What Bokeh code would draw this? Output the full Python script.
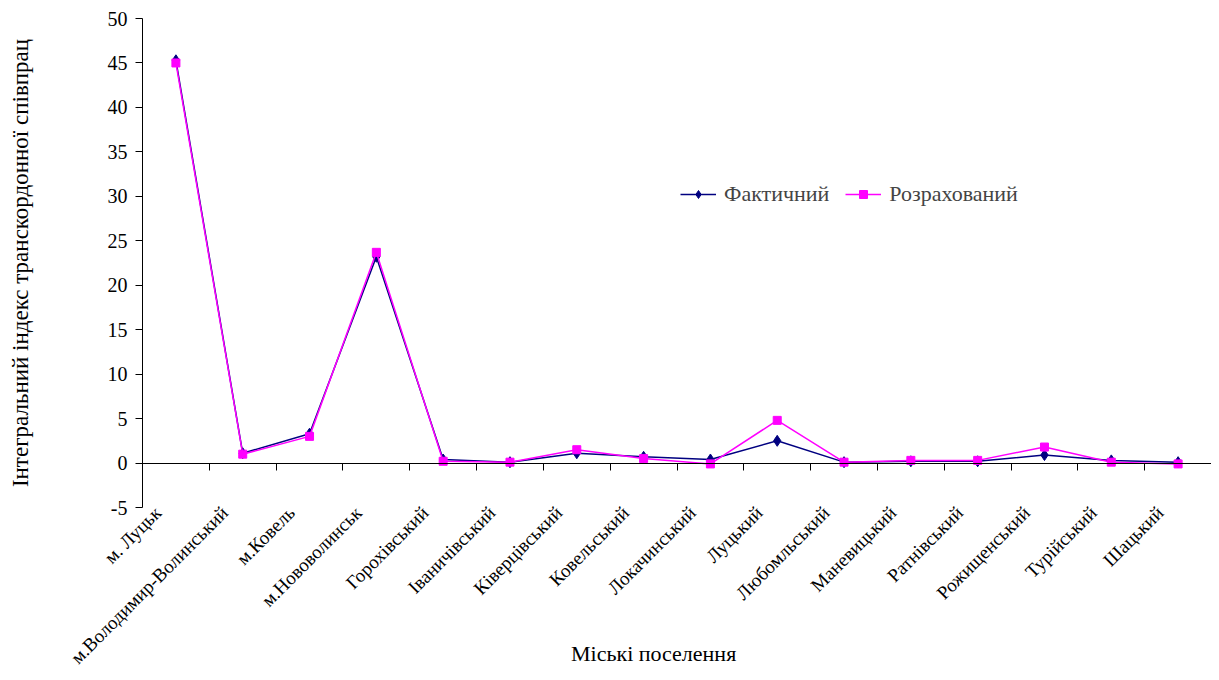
from bokeh.plotting import figure
from bokeh.models import (Range1d, FixedTicker, LinearAxis,
                          Legend, LegendItem, Label, ColumnDataSource)
from bokeh.embed import file_html
from bokeh.resources import INLINE
import math

categories = ["м. Луцьк", "м.Володимир-Волинський", "м.Ковель", "м.Нововолинськ",
              "Горохівський", "Іваничівський", "Ківерцівський", "Ковельський",
              "Локачинський", "Луцький", "Любомльський", "Маневицький",
              "Ратнівський", "Рожищенський", "Турійський", "Шацький"]
actual = [45.3, 1.1, 3.3, 23.2, 0.4, 0.1, 1.1, 0.7, 0.4, 2.5, 0.1, 0.2, 0.2, 0.9, 0.3, 0.1]
computed = [45.0, 1.0, 3.0, 23.7, 0.2, 0.1, 1.5, 0.5, -0.1, 4.8, 0.1, 0.3, 0.3, 1.8, 0.1, -0.1]
series_names = ["Фактичний", "Розрахований"]
y_ticks = list(range(-5, 51, 5))
y_title = "Інтегральний індекс транскордонної співпрац"
x_title = "Міські поселення"

FONT = "Liberation Serif"
W, H = 1211, 672
N = len(categories)

# vertical geometry (frame spans the whole canvas)
Y_MIN, Y_MAX = -5, 50
TOP = 18
PLOT_H = 489
PX = PLOT_H / (Y_MAX - Y_MIN)
LABEL_ZONE = H - TOP - PLOT_H
y_low = Y_MIN - LABEL_ZONE / PX
y_high = Y_MAX + TOP / PX

# horizontal geometry (axis at 142 px)
AXIS_X = 142
PXX = (W - AXIS_X) / N
x_low = -AXIS_X / PXX
LABEL_SHIFT = 18 / PXX

xs = [i + 0.5 for i in range(N)]
src = ColumnDataSource(dict(x=xs, actual=actual, computed=computed))

p = figure(width=W, height=H, output_backend="svg", toolbar_location=None,
           x_range=Range1d(x_low, N), y_range=Range1d(y_low, y_high),
           min_border_left=0, min_border_top=0, min_border_right=0, min_border_bottom=0)
p.outline_line_color = None
p.xgrid.visible = False
p.ygrid.visible = False
p.background_fill_color = "white"
p.border_fill_color = "white"

# y axis at x=0
ya = p.yaxis[0]
ya.fixed_location = 0
ya.bounds = (Y_MIN, Y_MAX)
ya.ticker = FixedTicker(ticks=y_ticks)
ya.major_label_overrides = {t: str(t) for t in y_ticks}
ya.major_tick_in = 0
ya.major_tick_out = 7
ya.minor_tick_line_color = None
ya.axis_line_color = "black"
ya.major_tick_line_color = "black"
ya.major_label_text_font = FONT
ya.major_label_text_font_size = "20px"
ya.major_label_text_color = "black"
ya.major_label_standoff = 8
ya.axis_label = y_title
ya.axis_label_text_font = FONT
ya.axis_label_text_font_size = "23px"
ya.axis_label_text_font_style = "normal"
ya.axis_label_text_color = "black"
ya.axis_label_standoff = 72

# category labels axis, at y=-5
tick_pos = [x - LABEL_SHIFT for x in xs]
xa = p.xaxis[0]
xa.fixed_location = Y_MIN
xa.ticker = FixedTicker(ticks=tick_pos)
xa.major_label_overrides = {t: c for t, c in zip(tick_pos, categories)}
xa.major_label_orientation = math.pi / 4
xa.axis_line_color = None
xa.major_tick_line_color = None
xa.minor_tick_line_color = None
xa.major_tick_out = 0
xa.major_label_standoff = 2
xa.major_label_text_font = FONT
xa.major_label_text_font_size = "19px"
xa.major_label_text_color = "black"

# x axis line at zero, ticks at category boundaries
bounds = list(range(N + 1))
za = LinearAxis(fixed_location=0, ticker=FixedTicker(ticks=bounds), bounds=(0, N))
za.major_label_overrides = {b: "" for b in bounds}
za.major_tick_in = 0
za.major_tick_out = 7
za.minor_tick_line_color = None
za.axis_line_color = "black"
za.major_tick_line_color = "black"
p.add_layout(za, "below")

l1 = p.line("x", "actual", source=src, line_color="#000080", line_width=1.5)
m1 = p.scatter("x", "actual", source=src, marker="diamond", size=11,
               fill_color="#000080", line_color="#000080")
l2 = p.line("x", "computed", source=src, line_color="#FF00FF", line_width=1.5)
m2 = p.scatter("x", "computed", source=src, marker="square", size=8,
               fill_color="#FF00FF", line_color="#FF00FF")

legend = Legend(items=[LegendItem(label=series_names[0], renderers=[l1, m1]),
                       LegendItem(label=series_names[1], renderers=[l2, m2])],
                orientation="horizontal", location=(AXIS_X + 538, 465),
                border_line_color=None, background_fill_alpha=0,
                label_text_font=FONT, label_text_font_size="22px",
                glyph_width=36, spacing=16, padding=4, margin=0, label_standoff=8)
p.add_layout(legend, "center")

title = Label(x=N / 2 - 0.35, y=Y_MIN - 146 / PX, x_units="data", y_units="data",
              text=x_title, text_font=FONT, text_font_size="22px",
              text_align="center", text_baseline="middle", text_color="black")
p.add_layout(title)

open("out.html", "w").write(file_html(p, INLINE))
